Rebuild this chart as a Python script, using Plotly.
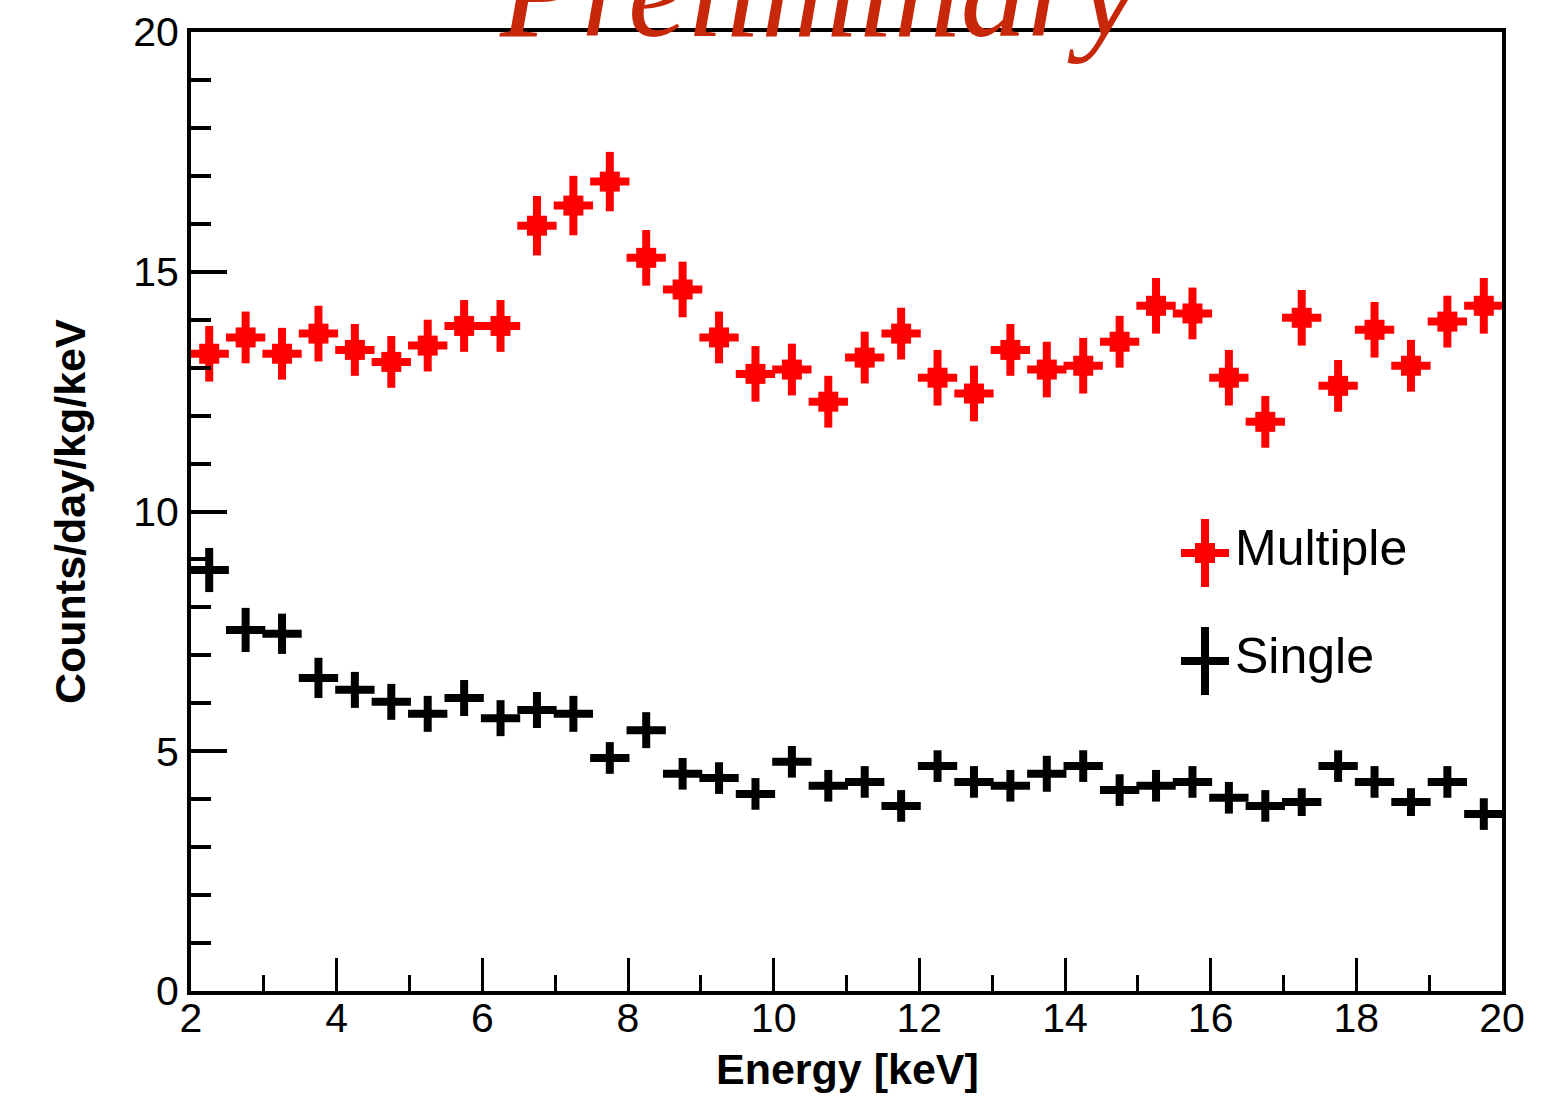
import plotly.graph_objects as go

# Bin centres (0.5 keV bins from 2 to 20 keV)
energy = [2.25, 2.75, 3.25, 3.75, 4.25, 4.75, 5.25, 5.75, 6.25, 6.75, 7.25, 7.75,
          8.25, 8.75, 9.25, 9.75, 10.25, 10.75, 11.25, 11.75, 12.25, 12.75, 13.25, 13.75,
          14.25, 14.75, 15.25, 15.75, 16.25, 16.75, 17.25, 17.75, 18.25, 18.75, 19.25, 19.75]

# Multiple-hit event rate and its statistical error
multiple = [13.29, 13.63, 13.29, 13.71, 13.37, 13.12, 13.46, 13.87, 13.87, 15.96, 16.38, 16.88,
            15.29, 14.63, 13.63, 12.87, 12.96, 12.29, 13.21, 13.71, 12.79, 12.46, 13.37, 12.96,
            13.04, 13.54, 14.29, 14.13, 12.79, 11.87, 14.04, 12.62, 13.79, 13.04, 13.96, 14.29]
multiple_err = [0.58, 0.54, 0.54, 0.58, 0.54, 0.54, 0.54, 0.54, 0.54, 0.62, 0.62, 0.62,
                0.58, 0.58, 0.54, 0.58, 0.54, 0.54, 0.54, 0.54, 0.58, 0.58, 0.54, 0.58,
                0.58, 0.54, 0.58, 0.54, 0.58, 0.54, 0.58, 0.54, 0.58, 0.54, 0.54, 0.58]

# Single-hit event rate and its statistical error
single = [8.78, 7.53, 7.45, 6.53, 6.28, 6.03, 5.78, 6.11, 5.69, 5.86, 5.78, 4.86,
          5.44, 4.53, 4.44, 4.11, 4.78, 4.28, 4.36, 3.86, 4.69, 4.36, 4.28, 4.53,
          4.69, 4.19, 4.28, 4.36, 4.03, 3.86, 3.94, 4.69, 4.36, 3.94, 4.36, 3.69]
single_err = [0.46, 0.46, 0.42, 0.42, 0.375, 0.375, 0.375, 0.375, 0.375, 0.375, 0.375, 0.33,
              0.375, 0.33, 0.33, 0.33, 0.33, 0.33, 0.33, 0.33, 0.33, 0.33, 0.33, 0.375,
              0.33, 0.33, 0.33, 0.33, 0.33, 0.33, 0.29, 0.33, 0.33, 0.29, 0.33, 0.33]

x_ticks = [2, 4, 6, 8, 10, 12, 14, 16, 18, 20]
y_ticks = [0, 5, 10, 15, 20]
series_names = ["Multiple", "Single"]
series_colors = ["#ff0000", "#000000"]

W, H = 1558, 1097
L, R, T, B = 191, 56, 32, 106
PW, PH = W - L - R, H - T - B


def px_x(p):
    return (p - L) / PW


def px_y(p):
    return (H - B - p) / PH


half_bin = 0.27
fig = go.Figure()
fig.add_trace(go.Scatter(
    x=energy, y=multiple, mode="markers", name=series_names[0],
    marker=dict(symbol="square", size=20, color=series_colors[0], line=dict(width=0)),
    error_x=dict(type="constant", value=half_bin, thickness=8, width=0, color=series_colors[0]),
    error_y=dict(type="data", array=multiple_err, thickness=8, width=0, color=series_colors[0]),
    showlegend=False, cliponaxis=True,
))
fig.add_trace(go.Scatter(
    x=energy, y=single, mode="markers", name=series_names[1],
    marker=dict(size=0.1, color=series_colors[1]),
    error_x=dict(type="constant", value=half_bin, thickness=8, width=0, color=series_colors[1]),
    error_y=dict(type="data", array=single_err, thickness=8, width=0, color=series_colors[1]),
    showlegend=False, cliponaxis=True,
))

tick_font = dict(family="Liberation Sans, Arial, sans-serif", size=41, color="black")
title_font = dict(family="Liberation Sans, Arial, sans-serif", size=43, color="black")

fig.update_layout(
    width=W, height=H,
    margin=dict(l=L, r=R, t=T, b=B, autoexpand=False),
    paper_bgcolor="white", plot_bgcolor="white",
    xaxis=dict(
        range=[2, 20], tickvals=x_ticks, ticktext=[str(v) for v in x_ticks],
        ticks="inside", ticklen=33, tickwidth=3, tickcolor="black",
        minor=dict(dtick=1, tick0=2, ticks="inside", ticklen=16, tickwidth=3, tickcolor="black"),
        showline=True, linewidth=4, linecolor="black", mirror=True,
        showgrid=False, zeroline=False, tickfont=tick_font, ticklabelstandoff=-12,
    ),
    yaxis=dict(
        range=[0, 20], tickvals=y_ticks, ticktext=[str(v) for v in y_ticks],
        ticks="inside", ticklen=36, tickwidth=4, tickcolor="black",
        minor=dict(dtick=1, tick0=0, ticks="inside", ticklen=20, tickwidth=4, tickcolor="black"),
        showline=True, linewidth=4, linecolor="black", mirror=True,
        showgrid=False, zeroline=False, tickfont=tick_font,
    ),
)

annotations = [
    dict(text="<b>Energy [keV]</b>", x=px_x(847), y=px_y(1069), xref="paper", yref="paper",
         xanchor="center", yanchor="middle", showarrow=False, font=title_font),
    dict(text="<b>Counts/day/kg/keV</b>", x=px_x(70), y=px_y(512), xref="paper", yref="paper",
         xanchor="center", yanchor="middle", textangle=-90, showarrow=False, font=title_font),
    dict(text="<i>Preliminary</i>", x=px_x(819), y=px_y(67), xref="paper", yref="paper",
         xanchor="center", yanchor="bottom", showarrow=False,
         font=dict(family="Liberation Serif, Times New Roman, serif", size=133, color="#c8280a")),
]

# Legend: cross-shaped entries drawn as filled rectangles, with labels
legend_rows = [(553, 548, True), (661, 656, False)]
shapes = []
for (cy, ty, with_box), name, color in zip(legend_rows, series_names, series_colors):
    cx = 1205
    rects = [(cx - 4, cy - 34, cx + 4, cy + 34), (cx - 24, cy - 4, cx + 24, cy + 4)]
    if with_box:
        rects.append((cx - 10, cy - 10, cx + 10, cy + 10))
    for x0, y0, x1, y1 in rects:
        shapes.append(dict(type="rect", xref="paper", yref="paper",
                           x0=px_x(x0), x1=px_x(x1), y0=px_y(y1), y1=px_y(y0),
                           fillcolor=color, line=dict(width=0)))
    annotations.append(dict(text=name, x=px_x(1233), y=px_y(ty), xref="paper", yref="paper",
                            xanchor="left", yanchor="middle", showarrow=False,
                            font=dict(family="Liberation Sans, Arial, sans-serif", size=50,
                                      color="black")))

fig.update_layout(annotations=annotations, shapes=shapes)
fig.write_html("out.html")
